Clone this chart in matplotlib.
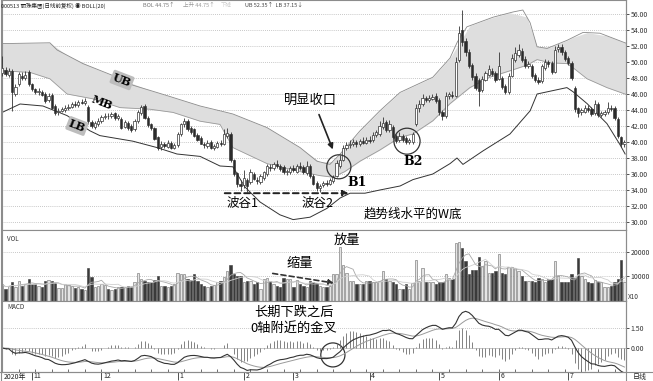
import numpy as np
import pandas as pd
import matplotlib
matplotlib.use("Agg")
import matplotlib.pyplot as plt
from matplotlib.patches import Ellipse

plt.rcParams['font.family'] = ['Noto Sans CJK SC', 'DejaVu Sans']

# daily candles, Oct 2020 - Jul 2021
opens = [48.6, 49.0, 48.4, 48.9, 46.0, 47.3, 48.3, 48.0, 48.7, 47.2,
         46.6, 46.2, 46.3, 46.0, 45.2, 45.9, 44.5, 43.7, 43.9, 44.0,
         44.2, 44.4, 44.7, 44.6, 45.0, 44.9, 44.4, 42.5, 41.9, 42.3,
         42.6, 43.1, 43.3, 43.2, 43.6, 43.0, 42.9, 41.9, 42.4, 42.0,
         41.6, 42.6, 43.6, 44.5, 43.0, 42.2, 41.7, 40.6, 39.4, 39.8,
         39.4, 39.9, 39.3, 39.6, 41.0, 42.2, 42.6, 41.8, 41.6, 40.9,
         40.5, 39.8, 39.5, 40.0, 39.3, 39.4, 39.9, 39.8, 40.8, 41.0,
         37.7, 36.1, 34.8, 34.6, 35.3, 35.0, 36.0, 35.3, 35.0, 35.5,
         36.0, 36.9, 36.7, 37.2, 37.0, 36.9, 36.2, 36.2, 36.8, 36.3,
         37.0, 36.9, 36.1, 37.0, 35.8, 34.9, 34.2, 34.6, 34.9, 34.8,
         35.1, 35.8, 37.0, 37.8, 39.3, 39.6, 39.8, 40.0, 39.7, 40.1,
         39.9, 40.3, 40.2, 40.9, 41.0, 41.9, 42.5, 41.5, 41.9, 40.7,
         40.3, 40.7, 40.5, 40.0, 40.0, 42.3, 44.2, 44.8, 45.5, 45.3,
         45.4, 45.8, 45.3, 43.8, 43.2, 45.7, 45.9, 45.8, 50.2, 54.0,
         52.6, 51.3, 49.6, 48.3, 47.8, 46.5, 47.8, 48.4, 48.9, 48.6,
         47.9, 48.0, 47.0, 46.3, 48.3, 50.3, 50.9, 51.4, 50.4, 49.5,
         49.5, 48.4, 47.8, 47.6, 49.3, 50.0, 49.9, 48.8, 51.6, 51.9,
         51.2, 50.5, 49.9, 46.8, 44.2, 43.7, 43.8, 44.3, 44.1, 43.6,
         44.8, 43.4, 43.5, 43.7, 44.3, 44.2, 42.9, 40.6, 39.8]
highs = [50.8, 49.4, 49.3, 49.1, 47.2, 48.8, 48.7, 48.9, 49.0, 47.4,
         46.8, 46.7, 46.5, 46.2, 46.1, 46.1, 44.7, 44.2, 44.4, 44.6,
         44.8, 45.0, 45.1, 45.3, 45.4, 45.5, 44.6, 42.8, 42.6, 43.0,
         43.4, 43.6, 43.6, 43.8, 43.8, 43.5, 43.1, 42.8, 42.6, 42.2,
         42.9, 44.0, 44.6, 44.8, 43.2, 42.4, 41.9, 40.8, 40.1, 40.0,
         40.2, 40.1, 39.9, 41.3, 42.4, 43.0, 42.9, 42.0, 41.8, 41.1,
         40.7, 40.0, 40.2, 40.2, 39.8, 40.1, 40.2, 41.6, 41.8, 41.2,
         37.9, 36.3, 35.3, 36.5, 35.5, 36.6, 36.3, 35.6, 36.0, 36.4,
         37.2, 37.3, 37.5, 37.8, 37.3, 37.1, 36.6, 37.0, 37.1, 37.3,
         37.5, 37.1, 37.6, 37.2, 36.0, 35.1, 34.8, 35.1, 35.2, 35.5,
         35.9, 37.8, 38.4, 39.6, 40.0, 40.3, 40.4, 40.2, 40.4, 40.6,
         40.6, 40.7, 41.2, 41.5, 42.6, 43.1, 42.8, 42.8, 42.1, 41.0,
         41.2, 41.0, 40.7, 40.5, 41.3, 44.8, 45.3, 46.0, 45.8, 45.9,
         46.0, 46.1, 45.5, 44.0, 46.2, 46.3, 46.4, 50.6, 54.5, 56.5,
         53.0, 51.6, 49.9, 48.6, 48.0, 48.2, 48.9, 49.6, 49.2, 48.9,
         51.2, 48.2, 47.2, 48.6, 51.0, 51.9, 52.2, 51.7, 50.7, 50.1,
         49.8, 48.6, 48.1, 49.8, 50.4, 50.3, 50.1, 52.0, 52.3, 52.2,
         51.5, 50.8, 50.1, 47.0, 44.4, 44.3, 44.6, 44.6, 44.4, 45.2,
         45.0, 43.9, 44.0, 45.0, 44.6, 44.5, 43.1, 40.8, 40.3]
lows = [48.3, 48.2, 48.1, 43.9, 45.8, 47.0, 47.7, 47.8, 47.0, 46.4,
        46.0, 45.9, 45.7, 44.9, 45.0, 44.1, 43.4, 43.4, 43.7, 43.8,
        44.0, 44.2, 44.4, 44.4, 44.7, 44.6, 42.3, 41.8, 41.6, 42.0,
        42.4, 42.9, 42.9, 43.0, 42.8, 42.8, 41.6, 41.7, 41.5, 41.3,
        41.4, 42.4, 43.4, 42.9, 41.9, 41.5, 40.2, 39.0, 39.0, 39.2,
        39.2, 39.1, 39.1, 39.4, 40.8, 41.9, 41.4, 41.0, 40.6, 40.1,
        39.7, 39.3, 39.3, 39.1, 39.0, 39.2, 39.5, 39.6, 40.5, 37.5,
        35.7, 34.4, 33.9, 34.3, 33.8, 34.8, 35.2, 34.8, 34.8, 35.3,
        35.8, 36.4, 36.5, 36.8, 36.4, 36.0, 35.9, 36.0, 36.3, 36.1,
        36.5, 36.0, 35.9, 35.5, 34.6, 33.9, 33.8, 34.4, 34.5, 34.6,
        34.9, 35.6, 36.8, 37.6, 39.0, 39.3, 39.5, 39.4, 39.5, 39.7,
        39.7, 39.9, 40.0, 40.6, 40.8, 41.6, 41.3, 41.3, 40.4, 39.9,
        40.0, 40.0, 39.8, 39.7, 39.7, 42.0, 43.8, 44.5, 45.0, 45.0,
        45.2, 44.9, 43.4, 42.8, 43.0, 45.4, 45.5, 45.6, 50.0, 52.0,
        50.8, 49.2, 47.8, 46.5, 44.5, 46.2, 47.6, 48.2, 48.2, 47.5,
        47.7, 46.6, 46.0, 46.0, 48.1, 50.0, 50.6, 50.0, 49.2, 49.2,
        48.0, 47.5, 47.2, 47.4, 49.0, 49.4, 48.5, 48.6, 51.3, 50.9,
        50.1, 49.6, 47.7, 43.8, 43.1, 43.4, 43.6, 43.7, 43.3, 43.4,
        43.1, 43.1, 43.3, 43.5, 43.9, 42.8, 40.5, 39.4, 39.4]
closes = [49.2, 48.5, 48.9, 46.3, 46.9, 48.5, 48.0, 48.4, 47.3, 46.6,
          46.3, 46.4, 45.9, 45.1, 45.8, 44.3, 43.6, 43.9, 44.1, 44.3,
          44.4, 44.7, 44.6, 45.0, 44.9, 45.1, 42.6, 42.0, 42.4, 42.6,
          43.1, 43.3, 43.2, 43.5, 43.0, 43.2, 41.8, 42.5, 41.8, 41.5,
          42.6, 43.8, 44.4, 43.0, 42.1, 41.7, 40.4, 39.3, 39.8, 39.5,
          39.9, 39.3, 39.6, 41.0, 42.2, 42.6, 41.6, 41.2, 40.8, 40.3,
          39.8, 39.6, 39.9, 39.3, 39.5, 39.9, 39.7, 41.0, 41.1, 37.8,
          36.0, 34.7, 34.5, 35.5, 34.5, 36.2, 35.4, 35.1, 35.7, 36.2,
          37.0, 36.7, 37.3, 37.0, 36.6, 36.2, 36.4, 36.8, 36.5, 37.0,
          36.7, 36.2, 37.0, 35.7, 34.8, 34.2, 34.5, 34.9, 34.8, 35.2,
          35.6, 37.4, 37.7, 39.2, 39.6, 39.8, 40.0, 39.7, 40.1, 39.9,
          40.3, 40.1, 40.9, 41.2, 42.0, 42.4, 41.5, 42.3, 40.6, 40.1,
          40.8, 40.3, 40.0, 40.2, 41.0, 44.2, 44.8, 45.5, 45.3, 45.5,
          45.6, 45.1, 43.7, 43.2, 45.8, 46.0, 45.7, 50.0, 53.6, 52.5,
          51.2, 49.5, 48.1, 46.8, 46.4, 47.9, 48.6, 49.1, 48.5, 47.8,
          49.5, 46.9, 46.3, 48.3, 50.5, 51.1, 51.5, 50.3, 49.5, 49.8,
          48.3, 47.8, 47.5, 49.5, 50.0, 49.7, 48.8, 51.5, 51.9, 51.2,
          50.4, 49.9, 48.0, 44.1, 43.6, 44.0, 44.3, 44.0, 43.5, 44.7,
          43.4, 43.6, 43.7, 44.3, 44.1, 43.0, 40.7, 39.8, 40.0]
volumes = [6700, 4700, 6000, 7400, 5400, 8000, 6000, 6700, 8700, 6700,
           6700, 6000, 5600, 8000, 8300, 7800, 7000, 5000, 5100, 6700,
           6500, 6000, 5000, 5400, 4900, 4100, 13400, 9700, 5700, 6000,
           6700, 6400, 4700, 4100, 4700, 5400, 5700, 5700, 5900, 5500,
           7400, 11400, 8700, 8000, 7400, 7400, 8300, 10000, 6000, 6000,
           5400, 6000, 6700, 11400, 10700, 10700, 8700, 8300, 10700, 8000,
           6700, 6000, 5700, 6000, 6500, 7400, 8000, 9500, 12000, 14700,
           10700, 10000, 10000, 7400, 8000, 8000, 6700, 7400, 4700, 8700,
           9400, 8000, 6700, 6000, 5400, 9400, 8700, 8700, 5400, 8300,
           6700, 6000, 5400, 8000, 7400, 7000, 6000, 5400, 5400, 6000,
           10700, 10700, 22000, 14700, 11400, 8000, 8000, 6700, 6700, 6700,
           7800, 7800, 7400, 7400, 8000, 12000, 8700, 8000, 7400, 6700,
           4700, 4700, 6700, 4700, 7000, 16700, 8000, 13400, 7400, 7400,
           7400, 6700, 7400, 7400, 10700, 9400, 8700, 23400, 24000, 21600,
           16000, 10700, 12700, 12700, 18000, 14000, 16000, 11400, 11400, 12000,
           19000, 11400, 10700, 13600, 13600, 13400, 12000, 10000, 8000, 8000,
           8000, 7400, 9400, 8700, 7400, 8700, 9000, 16000, 10000, 7400,
           7400, 7400, 10700, 9400, 17600, 10000, 8700, 7400, 7000, 8300,
           7400, 7400, 5400, 5400, 6000, 7400, 8700, 16700, 7400]

# Bollinger lines sampled along the chart (candle index, price)
ub_idx = [0, 14.4, 16.6, 24.4, 34.7, 39.5, 49.8, 59.8, 65.8, 69.7, 80.0, 90.0,
          95.1, 99.0, 102.1, 108.1, 114.1, 120.2, 130.1, 135.3, 137.5, 140.4,
          148.3, 154.3, 157.3, 159.5, 161.6, 164.6, 170.6, 175.5, 180.6, 188.8]
ub_val = [52.3, 52.4, 51.5, 49.8, 48.1, 47.1, 45.8, 44.5, 43.9, 43.5, 41.8, 39.3,
          37.6, 37.2, 38.5, 41.4, 43.9, 46.2, 48.1, 50.5, 52.5, 54.4,
          55.6, 56.25, 56.5, 54.9, 51.9, 51.7, 52.7, 53.7, 53.6, 52.3]
mb_idx = [0, 8.4, 14.4, 19.6, 27.4, 35.6, 44.6, 51.6, 59.8, 65.8, 69.7, 80.0,
          90.0, 96.0, 99.9, 103.5, 108.1, 114.1, 120.2, 124.1, 130.1, 135.3,
          141.3, 147.3, 153.4, 158.5, 161.6, 165.6, 170.6, 172.4, 176.7, 182.7, 188.8]
mb_val = [48.9, 48.7, 47.9, 46.0, 45.4, 44.3, 44.1, 43.7, 42.6, 42.2, 39.3, 37.3,
          36.3, 35.8, 35.6, 36.3, 37.6, 39.0, 40.6, 41.0, 42.65, 44.8,
          46.8, 48.1, 48.9, 49.6, 50.3, 49.9, 49.8, 49.3, 47.9, 46.8, 45.9]
lb_idx = [0, 5.4, 12.3, 19.6, 26.5, 29.5, 39.5, 46.8, 52.8, 59.8, 65.8, 69.7,
          73.3, 77.9, 83.9, 87.9, 93.0, 98.1, 102.1, 105.1, 109.6, 114.1, 120.2,
          124.1, 130.1, 135.3, 137.4, 139.2, 145.3, 153.4, 159.5, 161.6, 170.6,
          172.4, 176.7, 182.7, 186.6, 188.2]
lb_val = [43.7, 44.75, 44.5, 43.3, 41.4, 40.8, 40.1, 39.3, 38.5, 38.2, 37.0, 36.9,
          34.4, 32.5, 30.9, 30.3, 30.6, 31.7, 33.0, 33.6, 33.6, 34.0, 34.5,
          35.3, 36.0, 37.3, 38.0, 37.2, 38.9, 41.0, 43.9, 46.0, 46.8,
          46.3, 44.8, 42.3, 39.7, 38.5]

month_labels = ['2020年', '11', '12', '1', '2', '3', '4', '5', '6', '7']
month_starts = [0, 9, 30, 53, 73, 88, 111, 132, 150, 171]
price_ticks = np.arange(30, 57, 2)

W, H = 653, 381
fig = plt.figure(figsize=(W / 100, H / 100), dpi=100)


def box(x0, y0, x1, y1):
    return [x0 / W, 1 - y1 / H, (x1 - x0) / W, (y1 - y0) / H]


n = len(closes)
idx = np.arange(n)
o = np.array(opens)
c = np.array(closes)
up = c >= o
XL = (-0.06, 188.46)
edge = '#8c8c8c'


def frame(ax):
    ax.set_xlim(*XL)
    ax.set_xticks([])
    for s in ax.spines.values():
        s.set_color(edge)
        s.set_linewidth(0.8)
    ax.yaxis.tick_right()
    ax.tick_params(axis='y', labelsize=5, length=2, pad=1.5, colors='#333', width=0.6)


# ---- price panel
ax = fig.add_axes(box(2, 0, 626, 230))
frame(ax)
ax.set_ylim(29.0, 57.75)
ax.set_yticks(price_ticks)
ax.set_yticklabels(['%.2f' % v for v in price_ticks])
for v in price_ticks:
    ax.axhline(v, color='#b5b5b5', lw=0.6, ls=(0, (1, 1.5)), zorder=0)

ub_line = np.interp(mb_idx, ub_idx, ub_val)
ax.fill_between(mb_idx, mb_val, ub_line, color='#dedede', lw=0, zorder=1)
ax.plot(ub_idx, ub_val, color='#8a8a8a', lw=0.6, zorder=2)
ax.plot(mb_idx, mb_val, color='#9a9a9a', lw=0.6, zorder=2)
ax.plot(lb_idx, lb_val, color='#333333', lw=0.7, zorder=2)

ax.vlines(idx, lows, highs, color='#333333', lw=0.6, zorder=3)
body_lo = np.minimum(o, c)
body_h = np.maximum(np.abs(c - o), 0.06)
ax.bar(idx[up], body_h[up], bottom=body_lo[up], width=0.68,
       facecolor='white', edgecolor='#333333', lw=0.5, zorder=4)
ax.bar(idx[~up], body_h[~up], bottom=body_lo[~up], width=0.68,
       facecolor='#2b2b2b', edgecolor='#2b2b2b', lw=0.4, zorder=4)

# header
hy = 1 - 5.5 / H
hs = 4.0
for x0, txt, col in [(1, '000513 丽珠集团(日线前复权) ◉ BOLL(20)', '#222'),
                     (143, 'BOL 44.75↑', '#777'), (183, '上升 44.75↑', '#999'),
                     (221, '下降', '#ccc'), (245, 'UB 52.35↑  LB 37.15↓', '#444')]:
    fig.text(x0 / W, hy, txt, fontsize=hs, va='center', color=col)

# band labels
for txt, xi, yv, boxed in [('UB', 36.2, 47.75, True), ('MB', 30.1, 44.9, False),
                           ('LB', 22.6, 42.0, True)]:
    kw = dict(boxstyle='round,pad=0.15', fc='#bdbdbd', ec='none') if boxed else None
    ax.text(xi, yv, txt, family='DejaVu Serif', weight='bold', fontsize=8,
            rotation=-21, ha='center', va='center', bbox=kw, zorder=6)

# annotations on price panel
ax.text(93, 45.25, '明显收口', fontsize=9.5, ha='center', va='center', zorder=6)
ax.annotate('', xy=(100.2, 38.75), xytext=(95.4, 43.75),
            arrowprops=dict(arrowstyle='-|>', color='#222', lw=1.2,
                            mutation_scale=8), zorder=6)
ax.add_patch(Ellipse((101.7, 36.9), 7.3, 3.0, fill=False, ec='#333', lw=0.9, zorder=6))
ax.add_patch(Ellipse((122.3, 40.1), 7.9, 3.25, fill=False, ec='#333', lw=0.9, zorder=6))
ax.text(107.2, 35.0, 'B1', family='DejaVu Serif', weight='bold', fontsize=9,
        ha='center', va='center', zorder=6)
ax.text(124.1, 37.6, 'B2', family='DejaVu Serif', weight='bold', fontsize=9,
        ha='center', va='center', zorder=6)
ax.annotate('', xy=(105.5, 33.6), xytext=(66.4, 33.6),
            arrowprops=dict(arrowstyle='-|>', color='#222', lw=1.4, ls=(0, (3, 2)),
                            mutation_scale=8), zorder=6)
ax.text(72.7, 32.25, '波谷1', fontsize=9, ha='center', va='center', zorder=6)
ax.text(95.4, 32.25, '波谷2', fontsize=9, ha='center', va='center', zorder=6)
ax.text(124.1, 31.0, '趋势线水平的W底', fontsize=9, ha='center', va='center', zorder=6)

# ---- volume panel
av = fig.add_axes(box(2, 230, 626, 300.5))
frame(av)
vmax = 28900
av.set_ylim(0, vmax)
av.set_yticks([10000, 20000])
av.set_yticklabels(['10000', '20000'])
for v in (10000, 20000):
    av.axhline(v, color='#b5b5b5', lw=0.6, ls=(0, (1, 1.5)), zorder=0)
vol = np.array(volumes)
av.bar(idx[up], vol[up], width=0.7, facecolor='#e4e4e4', edgecolor='#6a6a6a', lw=0.4)
av.bar(idx[~up], vol[~up], width=0.7, facecolor='#3a3a3a', edgecolor='#3a3a3a', lw=0.4)
vs = pd.Series(volumes, dtype=float)
av.plot(idx, vs.rolling(5, min_periods=1).mean(), color='#a8a8a8', lw=0.6)
av.plot(idx, vs.rolling(10, min_periods=1).mean(), color='#cfcfcf', lw=0.6)
av.text(1.5, vmax * 0.93, 'VOL', fontsize=4.5, va='top', color='#333')
fig.text(628 / W, 1 - 297 / H, 'X10', fontsize=4.6, va='center', color='#333')
av.text(90.0, 15370, '缩量', fontsize=9.5, ha='center', va='center')
av.text(104.2, 24800, '放量', fontsize=9.5, ha='center', va='center')
av.annotate('', xy=(101.0, 7000), xytext=(80.9, 11270),
            arrowprops=dict(arrowstyle='-|>', color='#333', lw=1.2, ls=(0, (3, 2)),
                            mutation_scale=7))

# ---- MACD panel
am = fig.add_axes(box(2, 300.5, 626, 372))
frame(am)
am.set_ylim(-1.8, 3.56)
am.set_yticks([0, 1.5])
am.set_yticklabels(['0.00', '1.50'])
am.axhline(1.5, color='#b5b5b5', lw=0.6, ls=(0, (1, 1.5)), zorder=0)
am.axhline(0, color='#b0b0b0', lw=0.5, zorder=0)
cs = pd.Series(closes)
dif = cs.ewm(span=12, adjust=False).mean() - cs.ewm(span=26, adjust=False).mean()
dea = dif.ewm(span=9, adjust=False).mean()
hist = 2 * (dif - dea)
am.vlines(idx, 0, hist, color='#6e6e6e', lw=0.6)
am.plot(idx, dea, color='#9a9a9a', lw=0.7)
am.plot(idx, dif, color='#333333', lw=0.8)
am.text(1.5, 3.35, 'MACD', fontsize=4.5, va='top', color='#333')
am.text(88.2, 2.7, '长期下跌之后', fontsize=9.5, ha='center', va='center')
am.text(88.0, 1.5, '0轴附近的金叉', fontsize=9.5, ha='center', va='center')
am.add_patch(Ellipse((99.9, -0.52), 7.3, 1.8, fill=False, ec='#333', lw=0.9))
am.set_xticks(np.arange(0, n, 5), minor=True)
am.tick_params(axis='x', which='minor', length=2, direction='in', color='#555')

# ---- date strip
ad = fig.add_axes(box(2, 372, 626, 381))
ad.set_xlim(*XL)
ad.set_ylim(0, 1)
ad.axis('off')
for lab, s in zip(month_labels, month_starts):
    if s > 0:
        ad.vlines(s, 0.15, 0.95, color='#333', lw=0.6)
    ad.text(s + 0.5, 0.5, lab, fontsize=5, va='center', ha='left', color='#222')
fig.add_artist(plt.Line2D([0, 1], [1 - 372 / H] * 2, color=edge, lw=0.8))
fig.add_artist(plt.Line2D([626 / W] * 2, [0, 1], color=edge, lw=0.8))
fig.add_artist(plt.Line2D([1 / W] * 2, [0, 1], color=edge, lw=0.8))
fig.text(640 / W, 1 - 376.5 / H, '日线', fontsize=5, ha='center', va='center', color='#222')

fig.savefig('out.png', dpi=100)
